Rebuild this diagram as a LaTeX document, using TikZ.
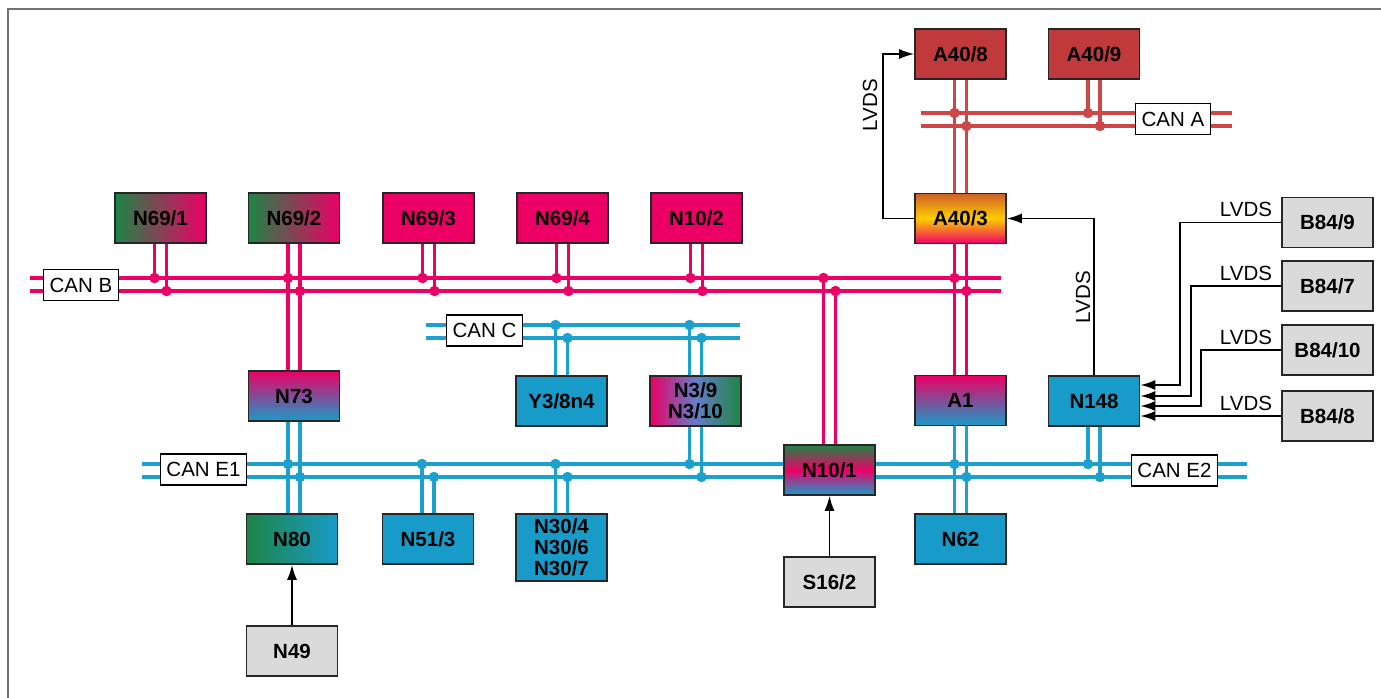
\documentclass[tikz,border=0pt]{standalone}
\usepackage{fontspec}
\setmainfont{Liberation Sans}
\usetikzlibrary{arrows.meta, backgrounds, calc}
\definecolor{canpink}{RGB}{236,0,102}
\definecolor{cancyan}{RGB}{28,160,205}
\definecolor{ecucyan}{RGB}{24,155,200}
\definecolor{canred}{RGB}{205,70,72}
\definecolor{ecured}{RGB}{192,58,60}
\definecolor{ecugreen}{RGB}{30,132,70}
\definecolor{ecugray}{RGB}{218,218,218}
\definecolor{ecuorange}{RGB}{205,95,40}
\definecolor{ecuyellow}{RGB}{255,205,0}
\definecolor{ecuviolet}{RGB}{100,125,200}
\definecolor{framegray}{RGB}{115,115,115}
\tikzset{
    ecu/.style={draw=black!85,line width=1.6pt,minimum width=91pt,minimum height=50pt,
        inner sep=0pt,align=center,font=\bfseries\fontsize{20.5}{21}\selectfont},
    pinkecu/.style={ecu,fill=canpink},
    cyanecu/.style={ecu,fill=ecucyan},
    redecu/.style={ecu,fill=ecured},
    grayecu/.style={ecu,fill=ecugray},
    canlbl/.style={draw=black,fill=white,line width=1.6pt,minimum height=31pt,
        inner xsep=6pt,inner ysep=0pt,font=\fontsize{20.5}{21}\selectfont},
    lbl/.style={inner sep=0pt,font=\fontsize{20.5}{21}\selectfont},
    bus/.style={line width=3.2pt},
    dot/.style={circle,inner sep=0pt,minimum size=10.5pt},
    sig/.style={draw=black,line width=1.8pt,-{Latex[length=15pt,width=10pt]}},
}
% two wires from a node to the hi/lo rail of a bus
\newcommand{\tapbus}[4]{%
    \path (#1.#2) ++(-6pt,0) coordinate (tl) ++(12pt,0) coordinate (tr);
    \draw[bus,#4] (tl) -- (tl |- #3hi-w) node[dot,fill=#4]{};
    \draw[bus,#4] (tr) -- (tr |- #3lo-w) node[dot,fill=#4]{};
}
% two wires straight from one node to the next
\newcommand{\twowire}[3]{%
    \path (#1.south) ++(-6pt,0) coordinate (ul) ++(12pt,0) coordinate (ur);
    \draw[bus,#3] (ul) -- (ul |- #2.north) (ur) -- (ur |- #2.north);
}

\begin{document}
\begin{tikzpicture}[x=1pt,y=-1pt]
\useasboundingbox (0,0) rectangle (1381,698);
\draw[framegray,line width=1.3pt] (8,698) -- (8,9) -- (1381,9);

% CAN A
\node[redecu] (A408) at (960.5,54) {A40/8};
\node[redecu] (A409) at (1094,54)  {A40/9};
\node[ecu,top color=ecuorange,bottom color=canpink,middle color=ecuyellow] (A403) at (960.5,218.5) {A40/3};
% CAN B
\node[pinkecu,left color=ecugreen,right color=canpink] (N691) at (160.5,218) {N69/1};
\node[pinkecu,left color=ecugreen,right color=canpink] (N692) at (294,218)   {N69/2};
\node[pinkecu] (N693) at (428.5,218) {N69/3};
\node[pinkecu] (N694) at (562.5,218) {N69/4};
\node[pinkecu] (N102) at (696.5,218) {N10/2};
% middle row
\node[ecu,top color=canpink,bottom color=ecucyan] (N73) at (294,396) {N73};
\node[cyanecu] (Y38n4) at (561.5,401) {Y3/8n4};
\node[ecu,left color=canpink,right color=ecugreen,middle color=ecuviolet] (N39) at (695.5,401) {N3/9\\N3/10};
\node[ecu,top color=canpink,bottom color=ecucyan] (A1) at (960.5,400.5) {A1};
\node[cyanecu] (N148) at (1094,401) {N148};
\node[ecu,top color=ecugreen,bottom color=ecucyan,middle color=canpink] (N101) at (829.5,470) {N10/1};
% lower row
\node[ecu,left color=ecugreen,right color=ecucyan] (N80) at (292,539) {N80};
\node[cyanecu] (N513) at (428,539) {N51/3};
\node[cyanecu,minimum height=67pt] (N30) at (561.5,547.5) {N30/4\\N30/6\\N30/7};
\node[cyanecu] (N62) at (960.5,539) {N62};
\node[grayecu] (N49)  at (292,651)   {N49};
\node[grayecu] (S162) at (829.5,582) {S16/2};
% cameras
\node[grayecu] (B849)  at (1327.5,222.5) {B84/9};
\node[grayecu] (B847)  at (1327.5,286)   {B84/7};
\node[grayecu] (B8410) at (1327.5,350)   {B84/10};
\node[grayecu] (B848)  at (1327.5,416)   {B84/8};

\foreach \bus/\hi/\lo/\xa/\xb in {A/113/126/921/1232, B/278/291/30/1001,
        C/325/338/426/740, E/464/477/142/1247}{
    \coordinate (\bus hi-w) at (\xa,\hi);
    \coordinate (\bus hi-e) at (\xb,\hi);
    \coordinate (\bus lo-w) at (\xa,\lo);
    \coordinate (\bus lo-e) at (\xb,\lo);
}
\node[canlbl] (canA)  at (1173,119)   {CAN A};
\node[canlbl] (canB)  at (81,285)     {CAN B};
\node[canlbl] (canC)  at (484.5,330.5) {CAN C};
\node[canlbl] (canE1) at (203.5,469.5) {CAN E1};
\node[canlbl] (canE2) at (1174.5,470.5) {CAN E2};

\begin{scope}[on background layer]
\draw[bus,canred] (Ahi-w) -- (Ahi-e) (Alo-w) -- (Alo-e);
\draw[bus,canpink] (Bhi-w) -- (Bhi-e) (Blo-w) -- (Blo-e);
\draw[bus,cancyan] (Chi-w) -- (Chi-e) (Clo-w) -- (Clo-e);
\draw[bus,cancyan] (Ehi-w) -- (Ehi-e) (Elo-w) -- (Elo-e);
\twowire{A408}{A403}{canred}
\tapbus{A408}{south}{A}{canred}
\tapbus{A409}{south}{A}{canred}
\twowire{A403}{A1}{canpink}
\tapbus{A403}{south}{B}{canpink}
\twowire{N692}{N73}{canpink}
\foreach \n in {N691,N692,N693,N694,N102}
    {\tapbus{\n}{south}{B}{canpink}}
\tapbus{N101}{north}{B}{canpink}
\twowire{N73}{N80}{cancyan}
\tapbus{N73}{south}{E}{cancyan}
\twowire{A1}{N62}{cancyan}
\tapbus{A1}{south}{E}{cancyan}
\tapbus{Y38n4}{north}{C}{cancyan}
\tapbus{N39}{north}{C}{cancyan}
\tapbus{N39}{south}{E}{cancyan}
\tapbus{N513}{north}{E}{cancyan}
\tapbus{N30}{north}{E}{cancyan}
\tapbus{N148}{south}{E}{cancyan}
\end{scope}

% LVDS and discrete signals
\draw[sig] (N49) -- (N80);
\draw[sig] (S162) -- (N101);
\draw[sig] (N148.north) |- (A403.east);
\draw[sig] (A403.west) -- ++(-31pt,0) |- (A408.west);
\draw[sig] (B849.west) -- ++(-101pt,0) |- ([yshift=16pt]N148.east);
\draw[sig] (B847.west) -- ++(-90pt,0) |- ([yshift=5pt]N148.east);
\draw[sig] (B8410.west) -- ++(-80pt,0) |- ([yshift=-5pt]N148.east);
\draw[sig] (B848.west) -- (B848.west -| N148.east);
\node[lbl,rotate=90] (lvA) at (870,105) {LVDS};
\node[lbl,rotate=90] (lvN) at (1083,297) {LVDS};
\foreach \b in {B849,B847,B8410,B848}
    \node[lbl,anchor=base east] (lv\b) at ([xshift=-9pt,yshift=6pt]\b.west) {LVDS};
\end{tikzpicture}
\end{document}
